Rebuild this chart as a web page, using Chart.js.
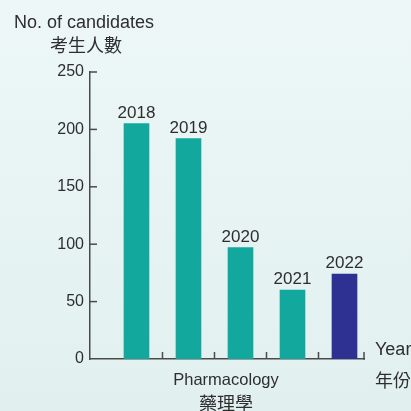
<!DOCTYPE html>
<html>
<head>
<meta charset="utf-8">
<script src="https://cdn.jsdelivr.net/npm/chart.js@4"></script>
<style>
  html, body { margin: 0; padding: 0; }
  body {
    width: 411px;
    height: 411px;
    overflow: hidden;
    background: linear-gradient(#edf7f7, #e1f0ef);
  }
  canvas { display: block; }
</style>
</head>
<body>
<canvas id="chart" width="411" height="411"></canvas>
<script>
// ============================================
// Data
// ============================================
const years = ['2018', '2019', '2020', '2021', '2022'];
const candidates = [205, 192, 97, 60, 74];
const yTicks = [0, 50, 100, 150, 200, 250];
const barColors = ['#13a89e', '#13a89e', '#13a89e', '#13a89e', '#2e3192'];

const TEXT = '#2e2e2e';
const AXIS = '#4a4a4a';
const LATIN = '"Liberation Sans", Arial, sans-serif';
const CJK = '"Noto Sans CJK TC", "Noto Sans CJK SC", sans-serif';

// ============================================
// Inward ticks, bar labels and axis titles
// ============================================
const decorations = {
    id: 'decorations',
    afterDraw(chart) {
        const ctx = chart.ctx;
        const xs = chart.scales.x;
        const ys = chart.scales.y;
        const area = chart.chartArea;

        const line = (x1, y1, x2, y2) => {
            ctx.beginPath();
            ctx.moveTo(x1, y1);
            ctx.lineTo(x2, y2);
            ctx.stroke();
        };

        ctx.save();
        ctx.strokeStyle = AXIS;
        ctx.lineWidth = 1.5;

        // y ticks pointing into the plot
        yTicks.forEach(v => {
            if (v === 0) return;
            const py = ys.getPixelForValue(v);
            line(area.left, py, area.left + 7, py);
        });

        // x ticks between the bars and at the end of the axis
        for (let i = 1; i < years.length; i++) {
            const px = xs.getPixelForValue(i + 0.5);
            line(px, area.bottom, px, area.bottom - 7);
        }
        line(area.right, area.bottom + 0.75, area.right, area.bottom - 7);

        // year labels above the bars
        ctx.fillStyle = TEXT;
        ctx.textAlign = 'center';
        ctx.textBaseline = 'alphabetic';
        ctx.font = '17px ' + LATIN;
        chart.getDatasetMeta(0).data.forEach((bar, i) => {
            ctx.fillText(years[i], bar.x, bar.y - 6);
        });

        // y axis title
        ctx.textAlign = 'left';
        ctx.font = '18px ' + LATIN;
        ctx.fillText('No. of candidates', 14, 28);
        ctx.textAlign = 'center';
        ctx.textBaseline = 'middle';
        ctx.font = '18px ' + CJK;
        ctx.fillText('考生人數', 86, 45);

        // x axis title
        const midX = (area.left + area.right) / 2 - 1;
        ctx.textBaseline = 'alphabetic';
        ctx.font = '16.5px ' + LATIN;
        ctx.fillText('Pharmacology', midX, 385);
        ctx.textBaseline = 'middle';
        ctx.font = '18px ' + CJK;
        ctx.fillText('藥理學', midX, 403);

        // "Year" label at the end of the x axis
        ctx.textAlign = 'left';
        ctx.textBaseline = 'alphabetic';
        ctx.font = '18px ' + LATIN;
        ctx.fillText('Year', 375, 355);
        ctx.textBaseline = 'middle';
        ctx.font = '18px ' + CJK;
        ctx.fillText('年份', 375, 380);

        ctx.restore();
    }
};

// ============================================
// Chart
// ============================================
new Chart(document.getElementById('chart'), {
    type: 'bar',
    data: {
        datasets: [{
            data: candidates.map((v, i) => ({ x: i + 1, y: v })),
            backgroundColor: barColors,
            borderWidth: 0,
            barThickness: 25
        }]
    },
    options: {
        responsive: false,
        animation: false,
        devicePixelRatio: 1,
        layout: {
            padding: { top: 72, right: 47, bottom: 52, left: 0 }
        },
        plugins: {
            legend: { display: false },
            tooltip: { enabled: false }
        },
        scales: {
            x: {
                type: 'linear',
                offset: false,
                min: 0.106,
                max: 5.375,
                grid: { display: false },
                border: { display: true, color: AXIS, width: 1.5 },
                ticks: { display: false },
                afterFit: scale => { scale.height = 0; }
            },
            y: {
                min: 0,
                max: 250,
                afterBuildTicks: scale => {
                    scale.ticks = yTicks.map(v => ({ value: v }));
                },
                grid: { display: false, drawTicks: false },
                border: { display: true, color: AXIS, width: 1.5 },
                ticks: {
                    color: TEXT,
                    padding: 6,
                    font: { family: 'Liberation Sans', size: 16 }
                },
                afterFit: scale => { scale.width = 90; }
            }
        }
    },
    plugins: [decorations]
});
</script>
</body>
</html>
